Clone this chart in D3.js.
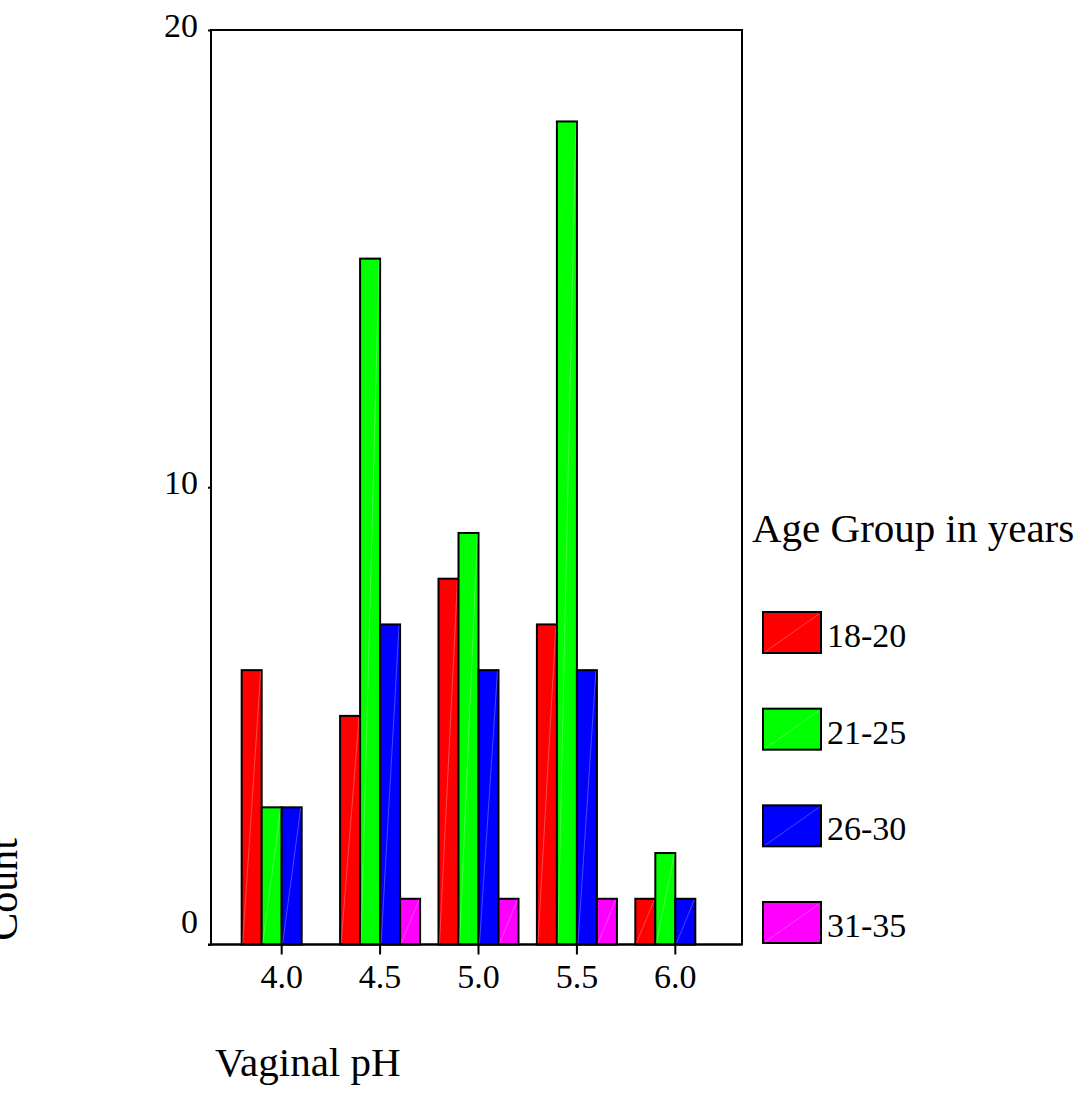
<!DOCTYPE html>
<html>
<head>
<meta charset="utf-8">
<script src="https://cdn.jsdelivr.net/npm/d3@7"></script>
<style>
  html, body { margin: 0; padding: 0; background: #fff; }
  svg { display: block; }
  text { font-family: "Liberation Serif", "Times New Roman", serif; fill: #000; }
</style>
</head>
<body>
<svg id="chart" width="1086" height="1112"></svg>
<script>
// ---- data ----
const categories = ["4.0", "4.5", "5.0", "5.5", "6.0"];
const series = ["18-20", "21-25", "26-30", "31-35"];
const colors = ["#ff0000", "#00ff00", "#0000ff", "#ff00ff"];
const values18_20 = [6, 5, 8, 7, 1];
const values21_25 = [3, 15, 9, 18, 2];
const values26_30 = [3, 7, 6, 6, 1];
const values31_35 = [0, 1, 1, 1, 0];
const yTicks = [0, 10, 20];
const seriesValues = [values18_20, values21_25, values26_30, values31_35];

// ---- layout ----
const frame = { left: 211, right: 742, top: 30, bottom: 944.5 };
const svg = d3.select("#chart");

const y = d3.scaleLinear().domain([0, 20]).range([frame.bottom, frame.top]);
const x0 = d3.scaleBand().domain(categories).range([222, 735])
  .paddingInner(0.187).paddingOuter(0.2);
const x1 = d3.scaleBand().domain(series).range([0, x0.bandwidth()]);

// frame
svg.append("rect")
  .attr("x", frame.left).attr("y", frame.top)
  .attr("width", frame.right - frame.left).attr("height", frame.bottom - frame.top)
  .attr("fill", "none").attr("stroke", "#000").attr("stroke-width", 2);

// bars
const data = [];
categories.forEach((c, i) => {
  series.forEach((s, j) => {
    const v = seriesValues[j][i];
    if (v > 0) data.push({ c, s, v, color: colors[j] });
  });
});
const barG = svg.append("g");
const bars = barG.selectAll("g.bar").data(data).enter().append("g").attr("class", "bar");
bars.append("rect")
  .attr("x", d => x0(d.c) + x1(d.s))
  .attr("y", d => y(d.v))
  .attr("width", x1.bandwidth())
  .attr("height", d => y(0) - y(d.v))
  .attr("fill", d => d.color)
  .attr("stroke", "#000").attr("stroke-width", 2);
bars.append("line")
  .attr("x1", d => x0(d.c) + x1(d.s) + 1)
  .attr("y1", d => y(0) - 1)
  .attr("x2", d => x0(d.c) + x1(d.s) + x1.bandwidth() - 1)
  .attr("y2", d => y(d.v) + 1)
  .attr("stroke", "#fff").attr("stroke-opacity", 0.35).attr("stroke-width", 0.8);

// redraw bottom axis line over bars
svg.append("line")
  .attr("x1", frame.left - 3).attr("x2", frame.right)
  .attr("y1", frame.bottom).attr("y2", frame.bottom)
  .attr("stroke", "#000").attr("stroke-width", 2);

// y axis ticks
const yAxis = d3.axisLeft(y).tickValues(yTicks).tickSize(3).tickFormat("");
const yg = svg.append("g").attr("transform", `translate(${frame.left},0)`).call(yAxis);
yg.select(".domain").remove();
yg.selectAll(".tick line").attr("stroke", "#000").attr("stroke-width", 2);
svg.append("g").selectAll("text").data(yTicks).enter().append("text")
  .attr("x", 198)
  .attr("y", d => d === 0 ? y(d) - 11.5 : y(d) + 7)
  .attr("text-anchor", "end")
  .attr("font-size", 34)
  .text(d => d);

// x axis ticks
const xAxis = d3.axisBottom(x0).tickSize(10).tickSizeOuter(0).tickFormat("");
const xg = svg.append("g").attr("transform", `translate(0,${frame.bottom})`).call(xAxis);
xg.select(".domain").remove();
xg.selectAll(".tick line").attr("stroke", "#000").attr("stroke-width", 2);
svg.append("g").selectAll("text").data(categories).enter().append("text")
  .attr("x", d => x0(d) + x0.bandwidth() / 2)
  .attr("y", 988)
  .attr("text-anchor", "middle")
  .attr("font-size", 34)
  .text(d => d);

// axis titles
svg.append("text")
  .attr("x", 215).attr("y", 1076)
  .attr("font-size", 41)
  .text("Vaginal pH");
svg.append("text")
  .attr("transform", "translate(17,889.5) rotate(-90)")
  .attr("text-anchor", "middle")
  .attr("font-size", 42)
  .text("Count");

// legend
svg.append("text")
  .attr("x", 752).attr("y", 542)
  .attr("font-size", 41)
  .text("Age Group in years");
const legendY = d3.scalePoint().domain(series).range([612, 902]);
const lg = svg.append("g").selectAll("g").data(series).enter().append("g")
  .attr("transform", d => `translate(763,${legendY(d)})`);
lg.append("rect")
  .attr("width", 58).attr("height", 41)
  .attr("fill", (d, i) => colors[i])
  .attr("stroke", "#000").attr("stroke-width", 2);
lg.append("line")
  .attr("x1", 2).attr("y1", 40).attr("x2", 56).attr("y2", 2)
  .attr("stroke", "#fff").attr("stroke-opacity", 0.35).attr("stroke-width", 0.8);
lg.append("text")
  .attr("x", 64).attr("y", 35)
  .attr("font-size", 34)
  .text(d => d);
</script>
</body>
</html>
